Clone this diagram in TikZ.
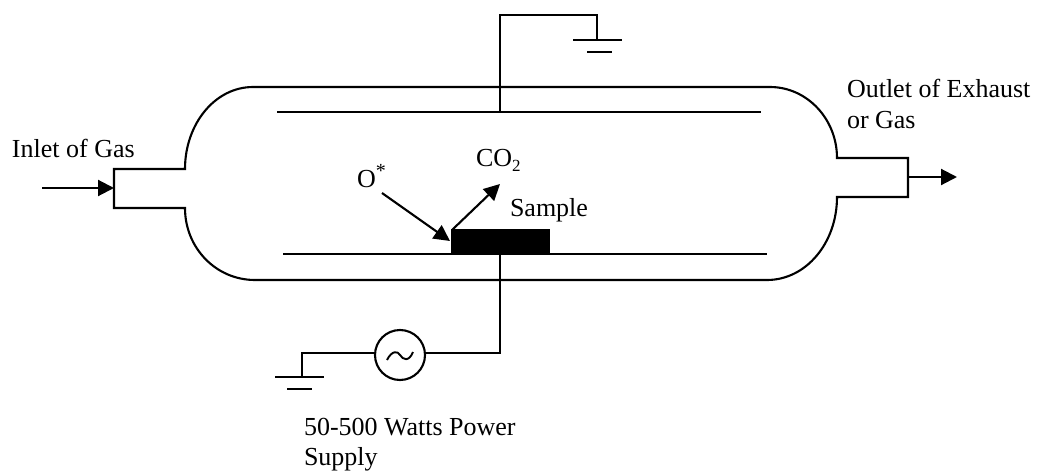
\documentclass[tikz,border=0pt]{standalone}
\usepackage{fontspec}
\setmainfont{Liberation Serif}
\usetikzlibrary{arrows.meta}
\tikzset{
  wire/.style={draw=black,line width=2.1pt,line join=miter},
  flow/.style={wire,-{Triangle[length=16pt,width=16pt]},shorten >=0pt},
  label/.style={anchor=base west,inner sep=0pt,outer sep=0pt,font=\fontsize{26}{30}\selectfont,text=black},
  samplebox/.style={fill=black,draw=none,inner sep=0pt,minimum width=99pt,minimum height=25pt},
  source/.style={circle,draw=black,line width=2.1pt,minimum size=50pt,inner sep=0pt}
}
\begin{document}
\begin{tikzpicture}[x=1pt,y=-1pt]
\useasboundingbox[fill=white] (0,0) rectangle (1037,471);
% vessel
\coordinate (inTop) at (114,169);
\coordinate (inBot) at (114,208);
\coordinate (outTop) at (908,158);
\coordinate (outBot) at (908,197);
\draw[wire] (inBot) -- (inTop) -- (185,169)
  .. controls (185,124) and (215,87) .. (253,87) -- (770,87)
  .. controls (807,87) and (837,119) .. (837,158) -- (outTop) -- (outBot) -- (837,197)
  .. controls (837,243) and (806,280) .. (767,280) -- (255,280)
  .. controls (216,280) and (185,248) .. (185,208) -- cycle;
% plates
\coordinate (upL) at (277,112);
\coordinate (upR) at (761,112);
\coordinate (upM) at (500,112);
\coordinate (loL) at (283,254);
\coordinate (loR) at (767,254);
\draw[wire] (upL) -- (upR);
\draw[wire] (loL) -- (loR);
\node[samplebox] (sample) at (500,241.5) {};
% top ground
\coordinate (g1) at (597,40);
\coordinate (g1L) at (573,40);
\coordinate (g1R) at (622,40);
\coordinate (g1aL) at (587,52);
\coordinate (g1aR) at (612,52);
\draw[wire] (upM) -- (500,15) -- (597,15) -- (g1);
\draw[wire] (g1L) -- (g1R);
\draw[wire] (g1aL) -- (g1aR);
% source
\node[source] (src) at (400,355) {};
\coordinate (g2) at (302,377);
\coordinate (g2L) at (275,377);
\coordinate (g2R) at (324,377);
\coordinate (g2aL) at (287,389);
\coordinate (g2aR) at (312,389);
\draw[wire] (sample.south) -- (500,353) -- (src.east |- 0,353);
\draw[wire] (src.west |- 0,353) -- (302,353) -- (g2);
\draw[wire] (g2L) -- (g2R);
\draw[wire] (g2aL) -- (g2aR);
\draw[line width=1.9pt] (387,360) .. controls (392,350) and (398,351) .. (400,355)
  .. controls (403,360) and (409,362) .. (413,352);
% flow arrows
\coordinate (inS) at (42,188);
\coordinate (inE) at (114,188);
\coordinate (outS) at (908,177);
\coordinate (outE) at (957,177);
\draw[flow] (inS) -- (inE);
\draw[flow] (outS) -- (outE);
\coordinate (oS) at (382,193);
\coordinate (oE) at (450,241);
\coordinate (cS) at (452,230);
\coordinate (cE) at (500,184);
\draw[flow] (oS) -- (oE);
\draw[flow] (cS) -- (cE);
% labels
\node[label] (inlet) at (12,157) {Inlet of Gas};
\node[label] (outlet1) at (847,97) {Outlet of Exhaust};
\node[label] (outlet2) at (847,128) {or Gas};
\node[label] (ostar) at (357,187) {O\raisebox{10pt}{\fontsize{20}{20}\selectfont *}};
\node[label] (co2) at (476,166) {CO\raisebox{-5pt}{\fontsize{17}{17}\selectfont 2}};
\node[label] (samplelabel) at (510,216) {Sample};
\node[label] (pw1) at (304,435) {50-500 Watts Power};
\node[label] (pw2) at (304,465) {Supply};
\end{tikzpicture}
\end{document}
